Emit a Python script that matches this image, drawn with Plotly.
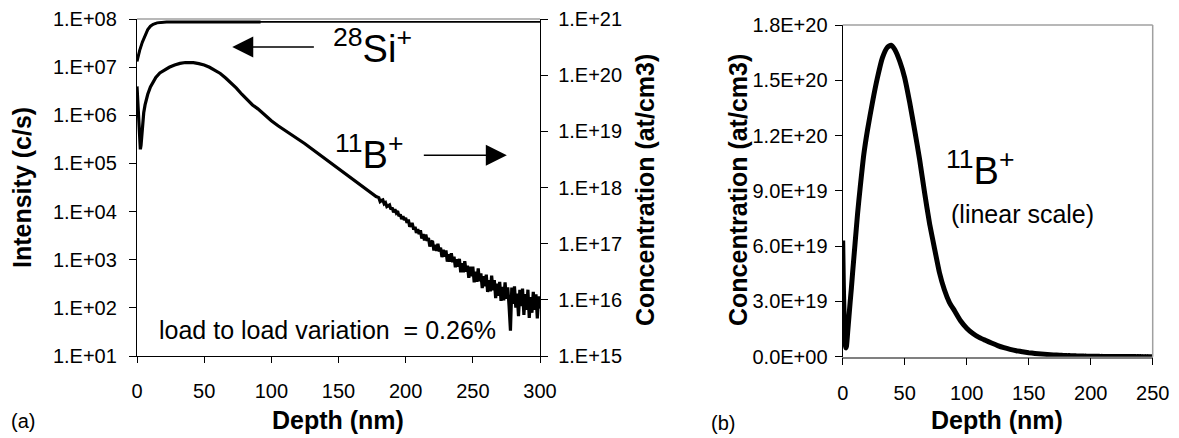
import plotly.graph_objects as go

W, H = 1179, 438

# ---------------- data ----------------
# Boron profile (log10 of concentration, at/cm3) vs depth (nm)
b_depth = [0, 0.5, 1, 1.5, 2, 2.5, 3, 3.5, 4, 5, 6, 7, 8, 10, 12, 14, 17, 20, 24, 28, 32, 36, 39, 42, 46, 50,
           54, 58, 62, 66, 70, 74, 78, 82, 86, 90, 95, 100, 105, 110, 115, 120, 125, 130, 135, 140, 145, 150,
           155, 160, 165, 170, 175, 178] + list(range(180, 301))
b_log = [19.80, 19.60, 19.40, 19.10, 18.85, 18.68, 18.75, 18.95, 19.12, 19.33, 19.47, 19.57, 19.66, 19.79,
         19.89, 19.96, 20.04, 20.09, 20.14, 20.18, 20.21, 20.225, 20.228, 20.222, 20.205, 20.18,
         20.14, 20.09, 20.03, 19.95, 19.86, 19.77, 19.66, 19.56, 19.47, 19.40, 19.29, 19.19, 19.10, 19.02,
         18.95, 18.87, 18.78, 18.69, 18.60, 18.51, 18.43, 18.34, 18.25, 18.16, 18.07, 17.98, 17.89, 17.84,
         # 180-189
         17.82, 17.75, 17.77, 17.78, 17.71, 17.73, 17.66, 17.68, 17.69, 17.61,
         # 190-199
         17.64, 17.56, 17.61, 17.55, 17.58, 17.49, 17.52, 17.44, 17.49, 17.42,
         # 200-209
         17.46, 17.37, 17.43, 17.30, 17.35, 17.35, 17.25, 17.30, 17.19, 17.26,
         # 210-219
         17.17, 17.24, 17.09, 17.17, 17.06, 17.16, 17.05, 17.10, 16.95, 17.03,
         # 220-229
         17.05, 16.88, 16.98, 16.87, 17.00, 16.86, 16.93, 16.76, 16.89, 16.77,
         # 230-239
         16.88, 16.68, 16.81, 16.68, 16.83, 16.67, 16.77, 16.58, 16.72, 16.59,
         # 240-249
         16.73, 16.49, 16.65, 16.49, 16.69, 16.50, 16.61, 16.39, 16.59, 16.42,
         # 250-259
         16.59, 16.31, 16.50, 16.32, 16.56, 16.33, 16.47, 16.21, 16.42, 16.24,
         # 260-269
         16.45, 16.14, 16.35, 16.15, 16.43, 16.17, 16.35, 16.03, 16.29, 16.07,
         # 270-279
         16.32, 15.98, 16.23, 15.99, 16.31, 16.02, 16.22, 15.88, 15.45, 16.22,
         # 280-289
         15.93, 16.24, 15.86, 16.11, 15.71, 16.18, 15.89, 16.20, 15.73, 16.10,
         # 290-300
         15.82, 16.18, 15.68, 16.05, 15.77, 16.14, 15.82, 16.10, 15.67, 16.06, 15.84]
b_conc = [10 ** v for v in b_log]

# Silicon matrix signal (log10 of intensity, c/s) vs depth (nm)
si_depth = [0, 1, 2, 4, 6, 8, 10, 12, 15, 18, 22, 30, 50, 70, 92, 120, 150, 200, 250, 300]
si_log = [7.12, 7.25, 7.35, 7.52, 7.67, 7.78, 7.85, 7.89, 7.92, 7.935, 7.94, 7.94, 7.94, 7.94, 7.94,
          7.94, 7.94, 7.94, 7.94, 7.94]
si_int = [10 ** v for v in si_log]
si_thick_end = 92

# tick labels
int_ticks = [1e1, 1e2, 1e3, 1e4, 1e5, 1e6, 1e7, 1e8]
int_labels = ["1.E+01", "1.E+02", "1.E+03", "1.E+04", "1.E+05", "1.E+06", "1.E+07", "1.E+08"]
conc_ticks = [1e15, 1e16, 1e17, 1e18, 1e19, 1e20, 1e21]
conc_labels = ["1.E+15", "1.E+16", "1.E+17", "1.E+18", "1.E+19", "1.E+20", "1.E+21"]
lin_ticks = [0, 3e19, 6e19, 9e19, 1.2e20, 1.5e20, 1.8e20]
lin_labels = ["0.0E+00", "3.0E+19", "6.0E+19", "9.0E+19", "1.2E+20", "1.5E+20", "1.8E+20"]
depth_ticks_a = [0, 50, 100, 150, 200, 250, 300]
depth_ticks_b = [0, 50, 100, 150, 200, 250]

# ---------------- layout helpers ----------------
FONT = "Liberation Sans, Arial, sans-serif"
def px(x):
    return x / W
def py(y):
    return 1 - y / H

A_X0, A_X1, A_Y0, A_Y1 = 137, 540, 19, 356
B_X0, B_X1, B_Y0, B_Y1 = 842.7, 1152.7, 25, 356.7

fig = go.Figure()

fig.add_trace(go.Scatter(x=si_depth, y=si_int, mode="lines", line=dict(color="black", width=1.8),
                         xaxis="x", yaxis="y", showlegend=False))
fig.add_trace(go.Scatter(x=[d for d in si_depth if d <= si_thick_end],
                         y=[v for d, v in zip(si_depth, si_int) if d <= si_thick_end],
                         mode="lines", line=dict(color="black", width=3),
                         xaxis="x", yaxis="y", showlegend=False))
fig.add_trace(go.Scatter(x=b_depth, y=b_conc, mode="lines", line=dict(color="black", width=3.2),
                         xaxis="x", yaxis="y2", showlegend=False))
fig.add_trace(go.Scatter(x=[d for d in b_depth if d <= 250], y=[c for d, c in zip(b_depth, b_conc) if d <= 250],
                         mode="lines", line=dict(color="black", width=5, shape="spline", smoothing=0.5),
                         xaxis="x2", yaxis="y4", showlegend=False))

tickfont = dict(family=FONT, size=20, color="black")

fig.update_layout(
    width=W, height=H, margin=dict(l=0, r=0, t=0, b=0, autoexpand=False),
    paper_bgcolor="white", plot_bgcolor="white", showlegend=False,
    font=dict(family=FONT, color="black"),
    xaxis=dict(domain=[px(A_X0), px(A_X1)], range=[0, 300], anchor="y",
               tickvals=depth_ticks_a, ticks="outside", ticklen=6, tickcolor="black",
               showline=True, linecolor="black", linewidth=1.3, showgrid=False, zeroline=False,
               tickfont=tickfont, ticklabelstandoff=11, automargin=False),
    yaxis=dict(domain=[py(A_Y1), py(A_Y0)], type="log", range=[1, 8], anchor="x",
               tickvals=int_ticks, ticktext=int_labels, ticks="outside", ticklen=7, tickcolor="black",
               showline=True, linecolor="black", linewidth=1.3, showgrid=False, zeroline=False,
               tickfont=tickfont, ticklabelstandoff=8, automargin=False),
    yaxis2=dict(overlaying="y", side="right", anchor="x", type="log", range=[15, 21],
                tickvals=conc_ticks, ticktext=conc_labels, ticks="outside", ticklen=7, tickcolor="black",
                showline=True, linecolor="black", linewidth=1.3, showgrid=False, zeroline=False,
                tickfont=tickfont, ticklabelstandoff=6, automargin=False),
    yaxis3=dict(overlaying="y", side="right", anchor="x", type="log", range=[15, 21],
                tickvals=conc_ticks, ticks="inside", ticklen=7, tickcolor="black",
                showticklabels=False, showline=False, showgrid=False, zeroline=False, automargin=False),
    xaxis2=dict(domain=[px(B_X0), px(B_X1)], range=[0, 250], anchor="y4",
                tickvals=depth_ticks_b, ticks="outside", ticklen=7, tickcolor="black",
                showline=True, linecolor="#808080", linewidth=1.5, showgrid=False, zeroline=False,
                tickfont=tickfont, ticklabelstandoff=11, automargin=False),
    yaxis4=dict(domain=[py(B_Y1), py(B_Y0)], range=[0, 1.8e20], anchor="x2",
                tickvals=lin_ticks, ticktext=lin_labels, ticks="outside", ticklen=7, tickcolor="black",
                showline=True, linecolor="black", linewidth=1.3, showgrid=False, zeroline=False,
                tickfont=tickfont, ticklabelstandoff=3, automargin=False),
)

# gray frame parts
fig.add_shape(type="line", xref="x domain", yref="y domain", x0=0, x1=1, y0=1, y1=1,
              line=dict(color="#a0a0a0", width=1.5))
fig.add_shape(type="line", xref="x2 domain", yref="y4 domain", x0=0, x1=1, y0=1, y1=1,
              line=dict(color="#a0a0a0", width=1.5))
fig.add_shape(type="line", xref="x2 domain", yref="y4 domain", x0=1, x1=1, y0=0, y1=1,
              line=dict(color="#a0a0a0", width=1.5))

ann = []
def txt(text, x, y, size, bold=False, angle=0, xanchor="center", yanchor="middle"):
    t = f"<b>{text}</b>" if bold else text
    ann.append(dict(text=t, x=px(x), y=py(y), xref="paper", yref="paper", showarrow=False,
                    textangle=angle, xanchor=xanchor, yanchor=yanchor,
                    font=dict(family=FONT, size=size, color="black")))

txt("Intensity (c/s)", 22, 188, 25, bold=True, angle=-90)
txt("Concentration (at/cm3)", 645, 190, 25, bold=True, angle=-90)
txt("Concentration (at/cm3)", 738, 190, 25, bold=True, angle=-90)
txt("Depth (nm)", 338, 420, 25, bold=True)
txt("Depth (nm)", 997, 420, 25, bold=True)
txt("(a)", 23, 421, 20)
txt("(b)", 723, 423, 20)
txt("<sup>28</sup>Si<sup>+</sup>", 372, 46, 38)
txt("<sup>11</sup>B<sup>+</sup>", 370, 152, 38)
txt("load to load variation  = 0.26%", 157, 330, 25, xanchor="left")
txt("<sup>11</sup>B<sup>+</sup>", 980, 168, 38)
txt("(linear scale)", 1022, 214, 25)

# arrows (data coords on the intensity axis; log axes use log10 values)
ann.append(dict(x=70.9, y=7.42, ax=132.8, ay=7.42, xref="x", yref="y", axref="x", ayref="y",
                text="", showarrow=True, arrowhead=2, arrowsize=2.8, arrowwidth=1.5, arrowcolor="black"))
ann.append(dict(x=275.3, y=5.17, ax=212.4, ay=5.17, xref="x", yref="y", axref="x", ayref="y",
                text="", showarrow=True, arrowhead=2, arrowsize=2.8, arrowwidth=1.5, arrowcolor="black"))
fig.update_layout(annotations=ann)

fig.write_html("out.html", config={"displayModeBar": False},
               post_script="document.body.style.margin='0';document.body.style.overflow='hidden';")
